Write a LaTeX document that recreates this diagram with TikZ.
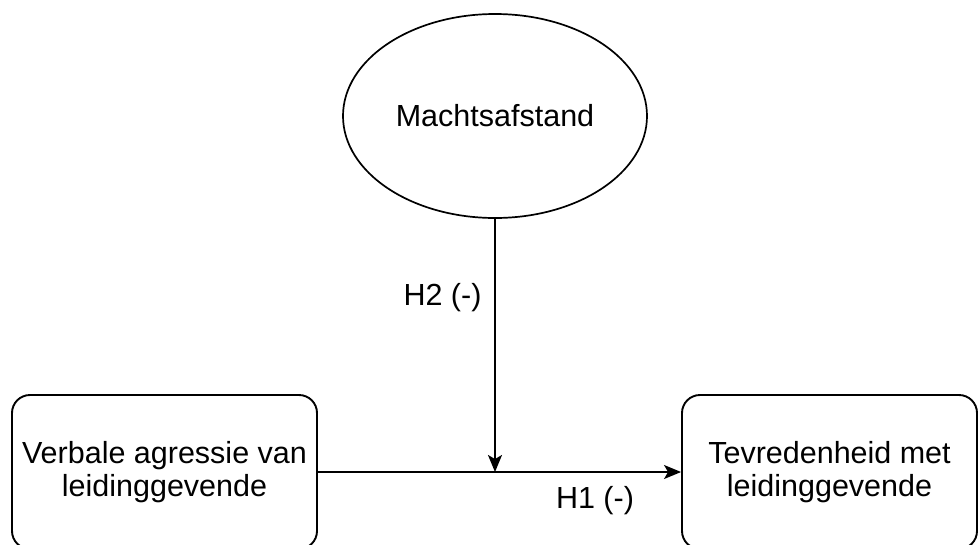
\documentclass[tikz,border=0pt]{standalone}
\usepackage{fontspec}
\setmainfont{Liberation Sans}
\usetikzlibrary{shapes.geometric,arrows.meta}
\begin{document}
\begin{tikzpicture}[x=1pt,y=-1pt,
  every node/.style={font=\fontsize{30.5}{33}\selectfont},
  boxstyle/.style={draw, line width=1.9pt, rounded corners=18pt, minimum width=305pt, minimum height=154pt, align=center, inner sep=0pt},
  ellstyle/.style={draw, ellipse, line width=1.7pt, minimum width=304pt, minimum height=204pt, inner sep=0pt},
  conn/.style={line width=1.9pt, -{Stealth[length=17pt,width=14pt,inset=4pt]}},
  lbl/.style={anchor=base, inner sep=0pt}
]
\useasboundingbox (0,0) rectangle (979,544);
\clip (0,0) rectangle (979,544);
\node[ellstyle] (m) at (495,116) {Machtsafstand};
\node[boxstyle] (v) at (164.5,472) {Verbale agressie van\\leidinggevende};
\node[boxstyle, minimum width=295pt] (t) at (829.5,472) {Tevredenheid met\\leidinggevende};
\coordinate (j) at (495,472);
\draw[conn] (m.south) -- (j);
\draw[conn] (v.east) -- (t.west);
\node[lbl] (h2) at (442.5,305) {H2 (-)};
\node[lbl] (h1) at (595,508) {H1 (-)};
\end{tikzpicture}
\end{document}
